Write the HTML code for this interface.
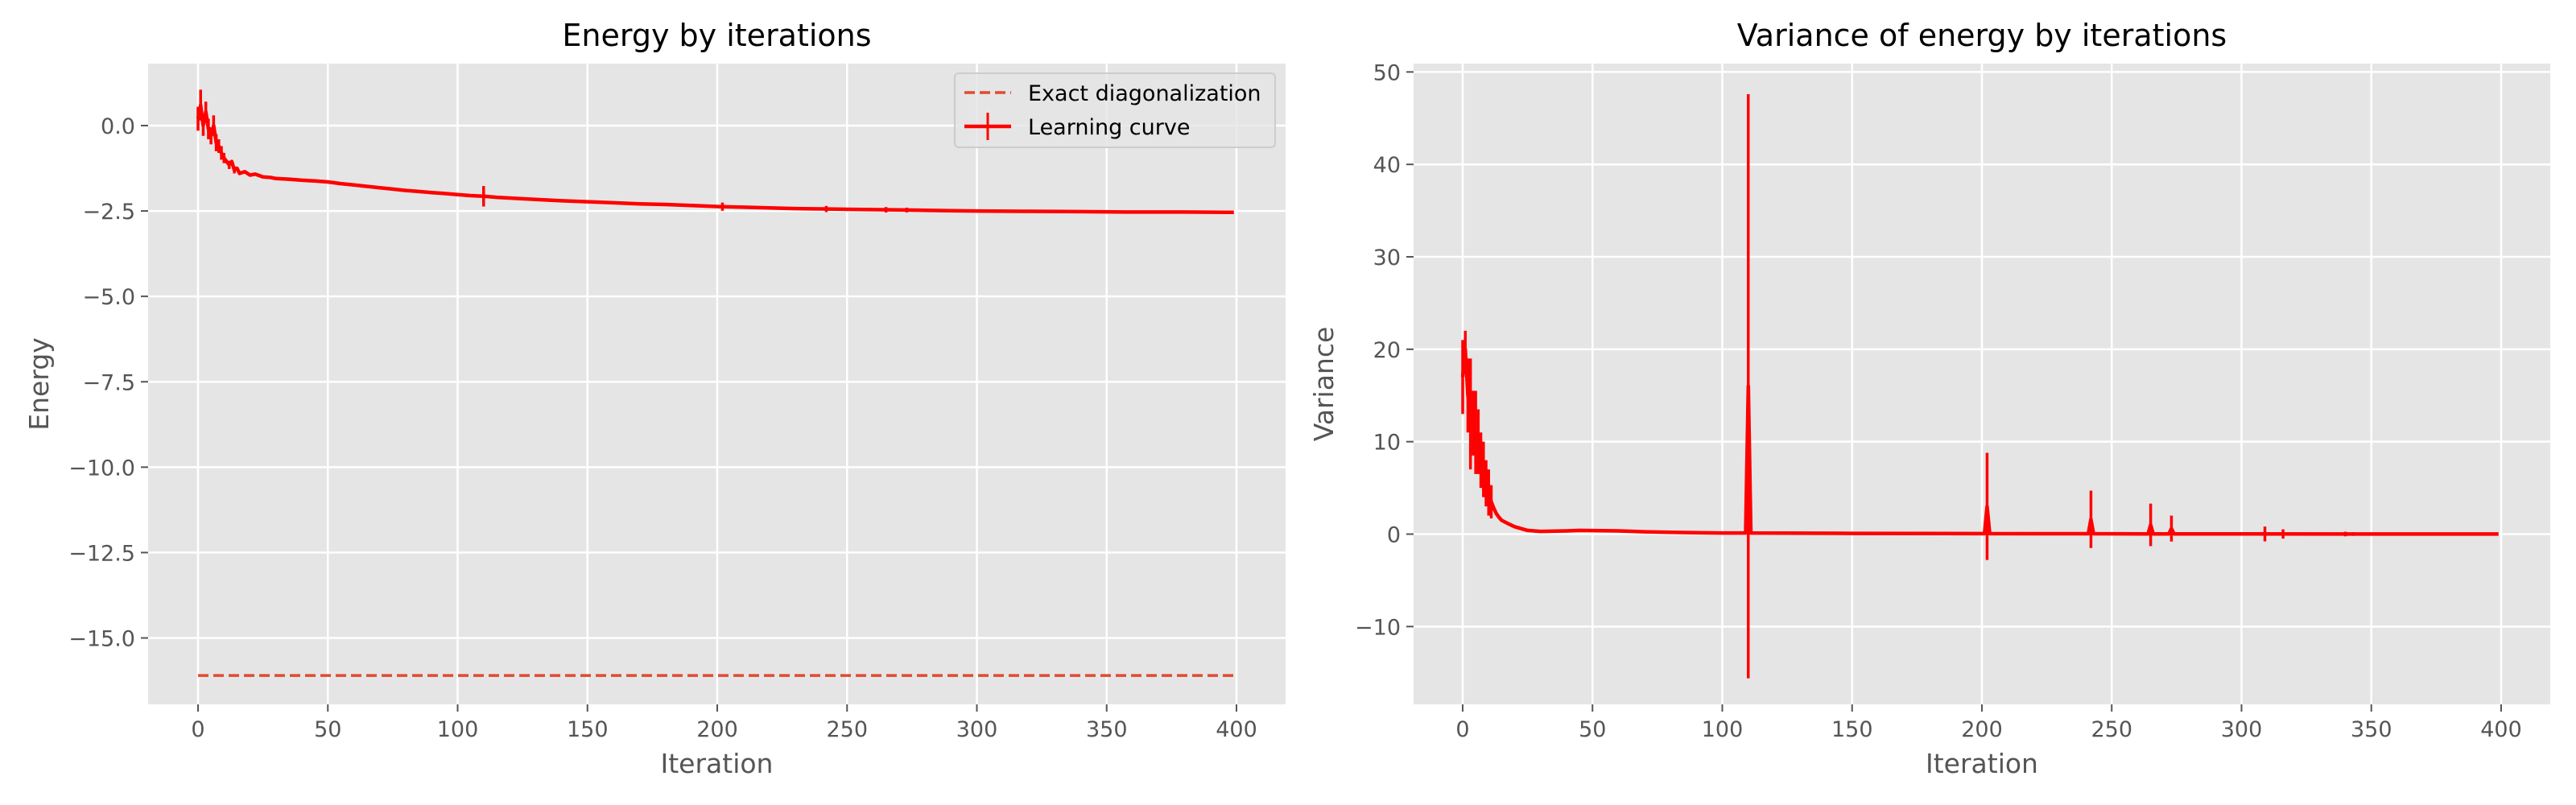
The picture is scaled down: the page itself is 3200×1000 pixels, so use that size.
<!DOCTYPE html>
<html><head><meta charset="utf-8"><style>
html,body{margin:0;padding:0;background:#fff;}
svg{display:block;font-family:"DejaVu Sans","Liberation Sans",sans-serif;}
</style></head><body>
<svg id="fig" width="3200" height="1000" viewBox="0 0 3200 1000" xmlns="http://www.w3.org/2000/svg"></svg>
<script>
// ---- Energy chart data ----
const energyIter = [0,1,2,3,4,5,6,7,8,9,10,11,12,13,14,15,16,18,20,22,25,28,30,35,40,45,50,55,60,65,70,75,80,85,90,95,100,105,110,115,120,130,140,150,160,170,180,190,200,210,220,230,240,250,260,270,280,290,300,320,340,360,380,399];
const energyVal = [0.2,0.6,0.0,0.4,-0.1,-0.3,0.0,-0.5,-0.6,-0.8,-0.95,-1.05,-1.15,-1.05,-1.3,-1.25,-1.4,-1.35,-1.45,-1.42,-1.5,-1.52,-1.55,-1.57,-1.6,-1.62,-1.65,-1.7,-1.74,-1.78,-1.82,-1.86,-1.9,-1.93,-1.96,-1.99,-2.02,-2.05,-2.07,-2.1,-2.12,-2.16,-2.2,-2.23,-2.26,-2.29,-2.31,-2.34,-2.37,-2.39,-2.41,-2.43,-2.44,-2.45,-2.46,-2.47,-2.48,-2.49,-2.5,-2.51,-2.52,-2.53,-2.53,-2.54];
const energyErrIter = [0,1,2,3,4,5,6,7,8,9,10,12,14,110,202,242,265,273,309,316,340];
const energyErrVal = [0.35,0.45,0.3,0.3,0.3,0.25,0.3,0.25,0.2,0.2,0.15,0.12,0.1,0.3,0.12,0.09,0.08,0.07,0.05,0.04,0.03];
const exactEnergy = -16.1;
const energyYTicks = [0.0,-2.5,-5.0,-7.5,-10.0,-12.5,-15.0];
const energyYTickLabels = ["0.0","\u22122.5","\u22125.0","\u22127.5","\u221210.0","\u221212.5","\u221215.0"];
// ---- Variance chart data ----
const varIter = [0,1,2,3,4,5,6,7,8,9,10,11,12,13,14,15,17,20,25,30,40,45,60,70,80,90,100,109,110,111,150,200,201,202,203,241,242,243,264,265,266,272,273,274,300,350,399];
const varVal = [17,20,15,13,12,11,10,8,7,5.5,4.5,3.5,2.8,2.2,1.8,1.5,1.2,0.8,0.4,0.3,0.35,0.4,0.35,0.25,0.2,0.15,0.12,0.12,16,0.12,0.08,0.05,0.05,3,0.05,0.04,1.6,0.04,0.03,1.0,0.03,0.03,0.6,0.03,0.02,0.01,0.01];
const varErrIter = [0,1,2,3,4,5,6,7,8,9,10,11,110,202,242,265,273,309,316,340,343];
const varErrVal = [4,2,4,6,3.5,4.5,3.5,3,3,2.5,2.5,1.8,31.6,5.8,3.1,2.3,1.4,0.8,0.5,0.25,0.2];
const varYTicks = [-10,0,10,20,30,40,50];
const varYTickLabels = ["\u221210","0","10","20","30","40","50"];
const xTicks = [0,50,100,150,200,250,300,350,400];

const NS="http://www.w3.org/2000/svg";
const svg=document.getElementById('fig');
function mk(tag,attrs,parent){const e=document.createElementNS(NS,tag);for(const k in attrs)e.setAttribute(k,attrs[k]);(parent||svg).appendChild(e);return e;}
function centerAt(xs,ys,it){
  for(let i=0;i<xs.length;i++){
    if(xs[i]===it) return ys[i];
    if(i>0&&xs[i-1]<it&&xs[i]>it){const f=(it-xs[i-1])/(xs[i]-xs[i-1]);return ys[i-1]+f*(ys[i]-ys[i-1]);}
  }
  return ys[ys.length-1];
}

function panel(cfg){
  const g=mk('g',{});
  
  
  const sx=v=>cfg.x0+(v-0)*(cfg.x400-cfg.x0)/400;
  const sy=v=>cfg.yA+(v-cfg.vA)*(cfg.yB-cfg.yA)/(cfg.vB-cfg.vA);
  const bg=mk('rect',{x:cfg.L,y:cfg.T,width:cfg.R-cfg.L,height:cfg.B-cfg.T,fill:'#e5e5e5'},g);
  
  
  xTicks.forEach(t=>{
    const x=sx(t);
    mk('line',{x1:x,x2:x,y1:cfg.T,y2:cfg.B,stroke:'#fff',"stroke-width":2.5},g);
    mk('line',{x1:x,x2:x,y1:cfg.B,y2:cfg.B+9,stroke:'#555',"stroke-width":2},g);
    const tx=mk('text',{x:x,y:cfg.B+40,"font-size":27,fill:'#555',"text-anchor":'middle'},g);
    tx.textContent=t;
    
    
  });
  cfg.yt.forEach((t,i)=>{
    const y=sy(t);
    mk('line',{x1:cfg.L,x2:cfg.R,y1:y,y2:y,stroke:'#fff',"stroke-width":2.5},g);
    mk('line',{x1:cfg.L-9,x2:cfg.L,y1:y,y2:y,stroke:'#555',"stroke-width":2},g);
    const tx=mk('text',{x:cfg.L-16,y:y+10,"font-size":27,fill:'#555',"text-anchor":'end'},g);
    tx.textContent=cfg.ytl[i];
    
    
  });
  const clip=mk('clipPath',{id:'c'+cfg.name},g);
  mk('rect',{x:cfg.L,y:cfg.T,width:cfg.R-cfg.L,height:cfg.B-cfg.T},clip);
  const dg=mk('g',{"clip-path":'url(#c'+cfg.name+')'},g);
  if(cfg.exact!==undefined){
    const l=mk('line',{x1:sx(0),x2:sx(399),y1:sy(cfg.exact),y2:sy(cfg.exact),stroke:'#E24A33',"stroke-width":3.5,"stroke-dasharray":'13,6'},dg);
    
    
  }
  let d='';
  cfg.xs.forEach((v,i)=>{d+=(i?'L':'M')+sx(v).toFixed(1)+','+sy(cfg.ys[i]).toFixed(1);});
  const p=mk('path',{d:d,fill:'none',stroke:'#ff0000',"stroke-width":4.5,"stroke-linejoin":'round'},dg);
  
  
  cfg.ex.forEach((it,i)=>{
    const c=centerAt(cfg.xs,cfg.ys,it);
    const e=cfg.ev[i];
    const l=mk('line',{x1:sx(it),x2:sx(it),y1:sy(c-e),y2:sy(c+e),stroke:'#ff0000',"stroke-width":3.5},dg);
    
    
  });
  const ti=mk('text',{x:(cfg.L+cfg.R)/2,y:57,"font-size":38,fill:'#000',"text-anchor":'middle'},g);
  ti.textContent=cfg.title;
  
  
  const xl=mk('text',{x:(cfg.L+cfg.R)/2,y:960,"font-size":33,fill:'#555',"text-anchor":'middle'},g);
  xl.textContent='Iteration';
  
  
  const yc=(cfg.T+cfg.B)/2;
  const yl=mk('text',{x:cfg.ylx,y:yc,"font-size":33,fill:'#555',"text-anchor":'middle',transform:'rotate(-90 '+cfg.ylx+' '+yc+')'},g);
  yl.textContent=cfg.ylabel;
  
  
  return g;
}

panel({name:'energy-chart',L:184,R:1597,T:79,B:875,x0:246,x400:1536,yA:156,vA:0,yB:792.5,vB:-15,
  yt:energyYTicks,ytl:energyYTickLabels,xs:energyIter,ys:energyVal,ex:energyErrIter,ev:energyErrVal,
  exact:exactEnergy,title:'Energy by iterations',ylabel:'Energy',ylx:60});
panel({name:'variance-chart',L:1756,R:3168,T:79,B:875,x0:1817,x400:3107,yA:663.5,vA:0,yB:89.4,vB:50,
  yt:varYTicks,ytl:varYTickLabels,xs:varIter,ys:varVal,ex:varErrIter,ev:varErrVal,
  title:'Variance of energy by iterations',ylabel:'Variance',ylx:1656});

// legend
const lg=mk('g',{});


mk('rect',{x:1186,y:91,width:398,height:92,rx:5,fill:'#e5e5e5',stroke:'#cccccc',"stroke-width":2,"fill-opacity":0.8},lg);
mk('line',{x1:1198,x2:1256,y1:115,y2:115,stroke:'#E24A33',"stroke-width":3.5,"stroke-dasharray":'13,6'},lg);
const t1=mk('text',{x:1277,y:125,"font-size":27,fill:'#000'},lg);
t1.textContent='Exact diagonalization';


mk('line',{x1:1198,x2:1256,y1:157,y2:157,stroke:'#ff0000',"stroke-width":4.5},lg);
mk('line',{x1:1227,x2:1227,y1:140,y2:174,stroke:'#ff0000',"stroke-width":3},lg);
const t2=mk('text',{x:1277,y:167,"font-size":27,fill:'#000'},lg);
t2.textContent='Learning curve';


</script>
</body></html>
